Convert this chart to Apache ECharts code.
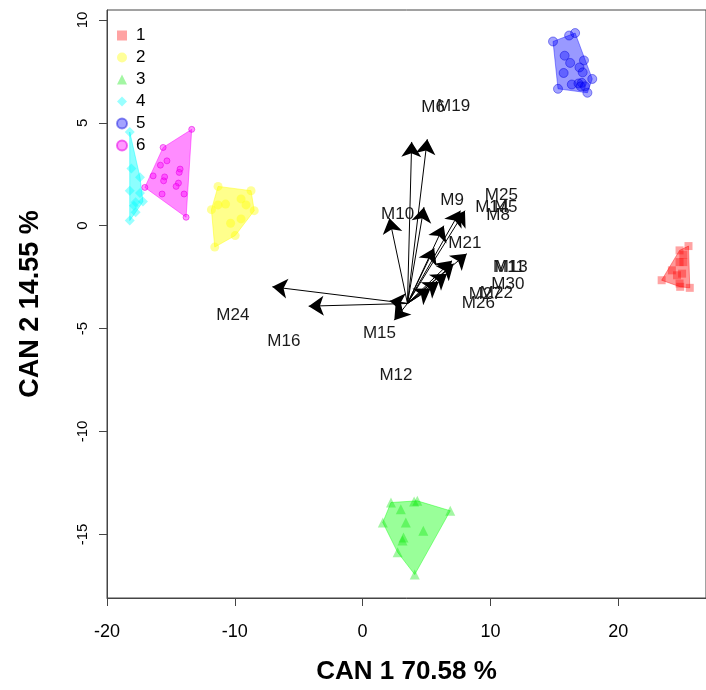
<!DOCTYPE html>
<html>
<head>
<meta charset="utf-8">
<script src="https://cdn.jsdelivr.net/npm/echarts@6/dist/echarts.min.js"></script>
<style>
  html, body { margin: 0; padding: 0; background: #fff; }
  #chart { width: 706px; height: 690px; }
</style>
</head>
<body>
<div id="chart"></div>
<script>
// group scores (CAN 1, CAN 2)
const g1x = [25.5, 24.8, 25.1, 24.8, 25.1, 24.2, 25.0, 23.4, 24.8, 24.85, 25.6, 24.6];
const g1y = [-0.99, -1.2, -1.41, -1.77, -1.77, -2.17, -2.33, -2.65, -2.81, -2.97, -3.02, -2.41];
const g2x = [-11.31, -8.73, -9.51, -10.72, -11.31, -9.12, -11.83, -8.48, -9.51, -10.33, -9.97, -11.57];
const g2y = [1.91, 1.70, 1.30, 1.05, 1.01, 1.01, 0.78, 0.73, 0.33, 0.12, -0.48, -1.04];
const g3x = [2.22, 4.03, 4.28, 2.99, 6.86, 1.58, 3.38, 4.75, 3.2, 3.12, 2.74, 4.08];
const g3y = [-13.45, -13.40, -13.37, -13.78, -13.85, -14.42, -14.42, -14.82, -15.15, -15.3, -15.87, -16.95];
const g4x = [-18.22, -18.09, -17.42, -18.22, -17.42, -17.76, -17.19, -17.89, -17.76, -18.22];
const g4y = [4.55, 2.78, 2.35, 1.70, 1.59, 1.14, 1.17, 0.97, 0.65, 0.25];
const g5x = [14.9, 16.16, 16.63, 15.81, 16.24, 17.32, 16.97, 15.73, 17.22, 17.97, 15.29, 16.37, 16.89, 17.15, 17.07, 17.40, 17.59];
const g5y = [8.95, 9.24, 9.36, 8.26, 7.91, 8.03, 7.69, 7.42, 7.45, 7.13, 6.65, 6.86, 6.91, 6.94, 6.77, 6.77, 6.46];
const g6x = [-13.37, -15.61, -15.31, -15.82, -14.28, -14.35, -16.39, -15.49, -15.57, -14.41, -14.59, -17.04, -15.69, -13.97, -13.81];
const g6y = [4.68, 3.80, 3.15, 2.94, 2.75, 2.59, 2.42, 2.37, 2.18, 2.07, 1.91, 1.86, 1.54, 1.54, 0.41];

// structure vectors
const originX = 3.51, originY = -3.78;
const arrowX = [-7.06, -4.22, 2.12, 2.48, 3.84, 5.06, 2.1, 4.8, 7.65, 8.01, 8.15, 7.12, 6.6, 5.96, 5.31, 6.35, 5.6, 7.0];
const arrowY = [-2.97, -3.91, -3.66, -4.59, 4.07, 4.2, 0.36, 0.9, 0.73, 0.73, -1.36, -1.85, -2.33, -2.73, -3.06, 0.0, -1.1, -1.7];

// variable labels
const varNames = ['M6', 'M19', 'M10', 'M9', 'M25', 'M14', 'M5', 'M8', 'M21', 'M13', 'M11', 'M30', 'M27', 'M22', 'M26', 'M24', 'M16', 'M15', 'M12'];
const varX = [5.52, 7.12, 2.74, 7.0, 10.86, 10.1, 11.2, 10.6, 8.0, 11.63, 11.45, 11.37, 9.6, 10.47, 9.06, -10.15, -6.16, 1.32, 2.61];
const varY = [5.73, 5.81, 0.57, 1.21, 1.46, 0.89, 0.89, 0.49, -0.88, -2.01, -2.01, -2.86, -3.35, -3.30, -3.78, -4.35, -5.63, -5.23, -7.25];

const xTicks = [-20, -10, 0, 10, 20];
const yTicks = [-15, -10, -5, 0, 5, 10];

const FONT = '"Liberation Sans", Arial, sans-serif';

const groups = [
  { name: '1', xs: g1x, ys: g1y, symbol: 'rect', size: 8, color: 'rgba(255,0,0,0.45)', hull: 'rgba(255,0,0,0.4)' },
  { name: '2', xs: g2x, ys: g2y, symbol: 'circle', size: 9, color: 'rgba(255,255,0,0.5)', hull: 'rgba(255,255,0,0.45)' },
  { name: '3', xs: g3x, ys: g3y, symbol: 'triangle', size: 10, color: 'rgba(0,230,0,0.45)', hull: 'rgba(0,255,0,0.4)' },
  { name: '4', xs: g4x, ys: g4y, symbol: 'diamond', size: 10, color: 'rgba(0,255,255,0.5)', hull: 'rgba(0,255,255,0.45)' },
  { name: '5', xs: g5x, ys: g5y, symbol: 'circle', size: 9, color: 'rgba(0,0,255,0.45)', hull: 'rgba(0,0,255,0.4)' },
  { name: '6', xs: g6x, ys: g6y, symbol: 'circle', size: 6, color: 'rgba(255,0,255,0.5)', hull: 'rgba(255,0,255,0.45)' }
];

function convexHull(pts) {
  const p = pts.slice().sort((a, b) => a[0] - b[0] || a[1] - b[1]);
  const cross = (o, a, b) => (a[0] - o[0]) * (b[1] - o[1]) - (a[1] - o[1]) * (b[0] - o[0]);
  const lower = [], upper = [];
  for (const q of p) {
    while (lower.length >= 2 && cross(lower[lower.length - 2], lower[lower.length - 1], q) <= 0) lower.pop();
    lower.push(q);
  }
  for (let i = p.length - 1; i >= 0; i--) {
    const q = p[i];
    while (upper.length >= 2 && cross(upper[upper.length - 2], upper[upper.length - 1], q) <= 0) upper.pop();
    upper.push(q);
  }
  upper.pop(); lower.pop();
  return lower.concat(upper);
}

const series = [];

groups.forEach(g => {
  const hull = convexHull(g.xs.map((x, i) => [x, g.ys[i]]));
  series.push({
    name: 'hull' + g.name,
    type: 'custom',
    silent: true,
    data: [0],
    renderItem: function (params, api) {
      return {
        type: 'polygon',
        shape: { points: hull.map(p => api.coord(p)) },
        style: { fill: g.hull, stroke: g.hull, lineWidth: 1 }
      };
    },
    z: 1
  });
});

groups.forEach(g => {
  series.push({
    name: g.name,
    type: 'scatter',
    symbol: g.symbol,
    symbolSize: g.size,
    data: g.xs.map((x, i) => [x, g.ys[i]]),
    itemStyle: {
      color: g.color,
      borderColor: g.name === '5' ? 'rgba(0,0,220,0.55)' : (g.name === '6' ? 'rgba(230,0,230,0.7)' : 'transparent'),
      borderWidth: (g.name === '5' || g.name === '6') ? 1 : 0
    },
    z: 2
  });
});

series.push({
  name: 'vectors',
  type: 'lines',
  coordinateSystem: 'cartesian2d',
  symbol: ['none', 'arrow'],
  symbolSize: [0, 15],
  lineStyle: { color: '#000', width: 1, opacity: 1 },
  data: arrowX.map((x, i) => ({ coords: [[originX, originY], [x, arrowY[i]]] })),
  silent: true,
  z: 3
});

series.push({
  name: 'varlabels',
  type: 'custom',
  silent: true,
  data: varNames.map((n, i) => [varX[i], varY[i]]),
  renderItem: function (params, api) {
    const pt = api.coord([api.value(0), api.value(1)]);
    return {
      type: 'text',
      x: pt[0], y: pt[1],
      style: {
        text: varNames[params.dataIndex],
        textAlign: 'center',
        textVerticalAlign: 'middle',
        font: '17px ' + FONT,
        fill: '#1a1a1a'
      }
    };
  },
  z: 4
});

const chart = echarts.init(document.getElementById('chart'));
chart.setOption({
  animation: false,
  backgroundColor: '#fff',
  grid: {
    left: 107, top: 10, width: 606, height: 591,
    show: true, borderColor: '#444', borderWidth: 1, backgroundColor: 'transparent'
  },
  legend: {
    orient: 'vertical',
    left: 111, top: 22,
    itemWidth: 10, itemHeight: 10, itemGap: 5,
    data: [
      { name: '1', icon: 'rect' },
      { name: '2', icon: 'circle' },
      { name: '3', icon: 'triangle' },
      { name: '4', icon: 'diamond' },
      { name: '5', icon: 'circle' },
      { name: '6', icon: 'circle' }
    ],
    textStyle: { fontFamily: FONT, fontSize: 17, color: '#000', padding: [0, 0, 0, 4] },
    selectedMode: false
  },
  xAxis: {
    type: 'value',
    min: -20, max: 26.87,
    name: 'CAN 1 70.58 %',
    nameLocation: 'middle',
    nameGap: 61,
    nameTextStyle: { fontFamily: FONT, fontSize: 26, fontWeight: 'bold', color: '#000' },
    axisLine: { show: true, onZero: false, lineStyle: { color: '#444', width: 1 } },
    axisTick: { show: true, length: 8, inside: false, customValues: xTicks, lineStyle: { color: '#444' } },
    axisLabel: { customValues: xTicks, margin: 25, fontFamily: FONT, fontSize: 18, color: '#000' },
    splitLine: { show: false }
  },
  yAxis: {
    type: 'value',
    min: -18.09, max: 10.48,
    name: 'CAN 2 14.55 %',
    nameLocation: 'middle',
    nameGap: 63,
    nameTextStyle: { fontFamily: FONT, fontSize: 27, fontWeight: 'bold', color: '#000' },
    axisLine: { show: true, onZero: false, lineStyle: { color: '#444', width: 1 } },
    axisTick: { show: true, length: 8, inside: false, customValues: yTicks, lineStyle: { color: '#444' } },
    axisLabel: { customValues: yTicks, rotate: 90, margin: 17, fontFamily: FONT, fontSize: 15, color: '#000' },
    splitLine: { show: false }
  },
  series: series
});
</script>
</body>
</html>
